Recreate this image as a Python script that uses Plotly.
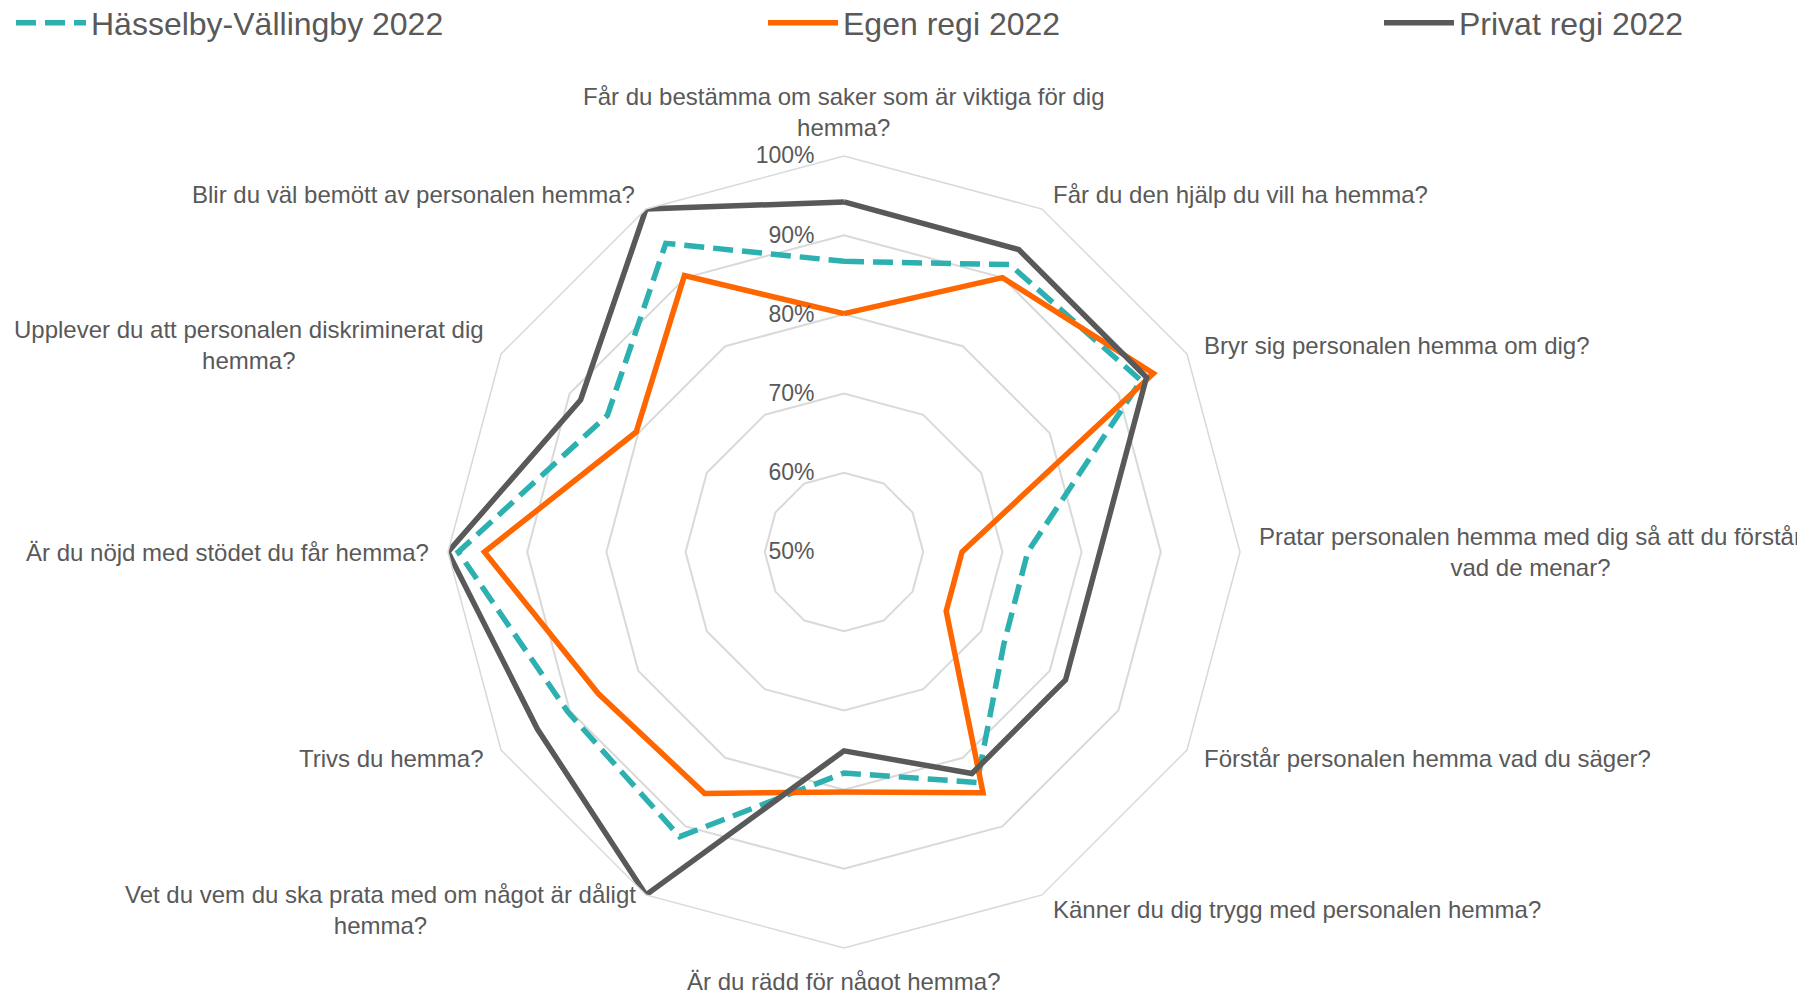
import math
import plotly.graph_objects as go

# ---------------- data ----------------
categories = [
    "Får du bestämma om saker som är viktiga för dig hemma?",
    "Får du den hjälp du vill ha hemma?",
    "Bryr sig personalen hemma om dig?",
    "Pratar personalen hemma med dig så att du förstår vad de menar?",
    "Förstår personalen hemma vad du säger?",
    "Känner du dig trygg med personalen hemma?",
    "Är du rädd för något hemma?",
    "Vet du vem du ska prata med om något är dåligt hemma?",
    "Trivs du hemma?",
    "Är du nöjd med stödet du får hemma?",
    "Upplever du att personalen diskriminerat dig hemma?",
    "Blir du väl bemött av personalen hemma?",
]
category_labels = [
    "Får du bestämma om saker som är viktiga för dig<br>hemma?",
    "Får du den hjälp du vill ha hemma?",
    "Bryr sig personalen hemma om dig?",
    "Pratar personalen hemma med dig så att du förstår<br>vad de menar?",
    "Förstår personalen hemma vad du säger?",
    "Känner du dig trygg med personalen hemma?",
    "Är du rädd för något hemma?",
    "Vet du vem du ska prata med om något är dåligt<br>hemma?",
    "Trivs du hemma?",
    "Är du nöjd med stödet du får hemma?",
    "Upplever du att personalen diskriminerat dig<br>hemma?",
    "Blir du väl bemött av personalen hemma?",
]
series_names = ["Hässelby-Vällingby 2022", "Egen regi 2022", "Privat regi 2022"]
hasselby = [86.7, 91.9, 93.3, 73.2, 73.3, 83.6, 77.9, 91.5, 90.3, 98.7, 84.5, 95.0]
egen = [80.1, 90.0, 95.1, 64.9, 64.9, 85.1, 80.3, 85.2, 85.8, 95.4, 80.3, 90.3]
privat = [94.2, 94.1, 94.1, 82.3, 82.3, 82.3, 75.1, 100.0, 94.7, 100.0, 88.4, 100.0]
radial_ticks = [50, 60, 70, 80, 90, 100]
radial_tick_labels = ["50%", "60%", "70%", "80%", "90%", "100%"]

# ---------------- layout constants ----------------
OFF = 8                      # page body margin
W, H = 1805 - OFF, 990 - OFF
CX, CY, R = 844 - OFF, 552 - OFF, 396
FONT = "Liberation Sans, Arial, sans-serif"
TXT = "#595959"
GRID = "#D9D9D9"
colors = ["#2DB0B0", "#FF6600", "#595959"]
dashes = ["20px,9px", "solid", "solid"]

fig = go.Figure()
for name, vals, col, dash, lg in zip(series_names, [hasselby, egen, privat], colors, dashes,
                                     ["legend", "legend2", "legend3"]):
    fig.add_trace(go.Scatterpolar(
        r=vals + vals[:1],
        theta=categories + categories[:1],
        mode="lines",
        name=name,
        line=dict(color=col, width=5.5, dash=dash),
        legend=lg,
    ))

# category labels around the chart
annotations = []
n = len(categories)
for i, lab in enumerate(category_labels):
    ang = math.radians(i * 360 / n)
    s, c = math.sin(ang), math.cos(ang)
    gap = 17
    yanchor = "middle"
    if c > 0.99:
        gap, yanchor = 13, "bottom"
    elif c < -0.99:
        gap, yanchor = 18, "top"
    px = CX + (R + gap) * s
    py = CY - (R + gap) * c
    xanchor = "left" if s > 0.01 else ("right" if s < -0.01 else "center")
    annotations.append(dict(
        x=px / W, y=1 - py / H, xref="paper", yref="paper",
        text=lab, showarrow=False, xanchor=xanchor, yanchor=yanchor, align="center",
        font=dict(family=FONT, size=24, color=TXT),
    ))

LEG_Y = 15
legend_common = dict(orientation="h", yanchor="middle", y=1 - LEG_Y / H, xanchor="left",
                     itemwidth=70,
                     font=dict(family=FONT, size=32, color=TXT), bgcolor="rgba(0,0,0,0)")

fig.update_layout(
    width=W, height=H,
    margin=dict(l=0, r=0, t=0, b=0, autoexpand=False),
    paper_bgcolor="white",
    plot_bgcolor="white",
    showlegend=True,
    legend=dict(x=(47 - OFF + 4 - 40) / W, **legend_common),
    legend2=dict(x=(799 - OFF + 4 - 40) / W, **legend_common),
    legend3=dict(x=(1415 - OFF + 4 - 40) / W, **legend_common),
    annotations=annotations,
    polar=dict(
        domain=dict(x=[(CX - R) / W, (CX + R) / W], y=[1 - (CY + R) / H, 1 - (CY - R) / H]),
        bgcolor="white",
        gridshape="linear",
        radialaxis=dict(
            range=[50, 100],
            tickmode="array",
            tickvals=radial_ticks,
            ticktext=radial_tick_labels,
            angle=90,
            side="counterclockwise",
            tickangle=90,
            showline=False,
            ticks="outside",
            ticklen=21,
            tickcolor="rgba(0,0,0,0)",
            gridcolor=GRID,
            gridwidth=1.5,
            tickfont=dict(family=FONT, size=23, color=TXT),
        ),
        angularaxis=dict(
            rotation=90,
            direction="clockwise",
            showgrid=False,
            showline=True,
            linecolor=GRID,
            linewidth=1.5,
            ticks="",
            showticklabels=False,
        ),
    ),
)

fig.write_html("out.html")
